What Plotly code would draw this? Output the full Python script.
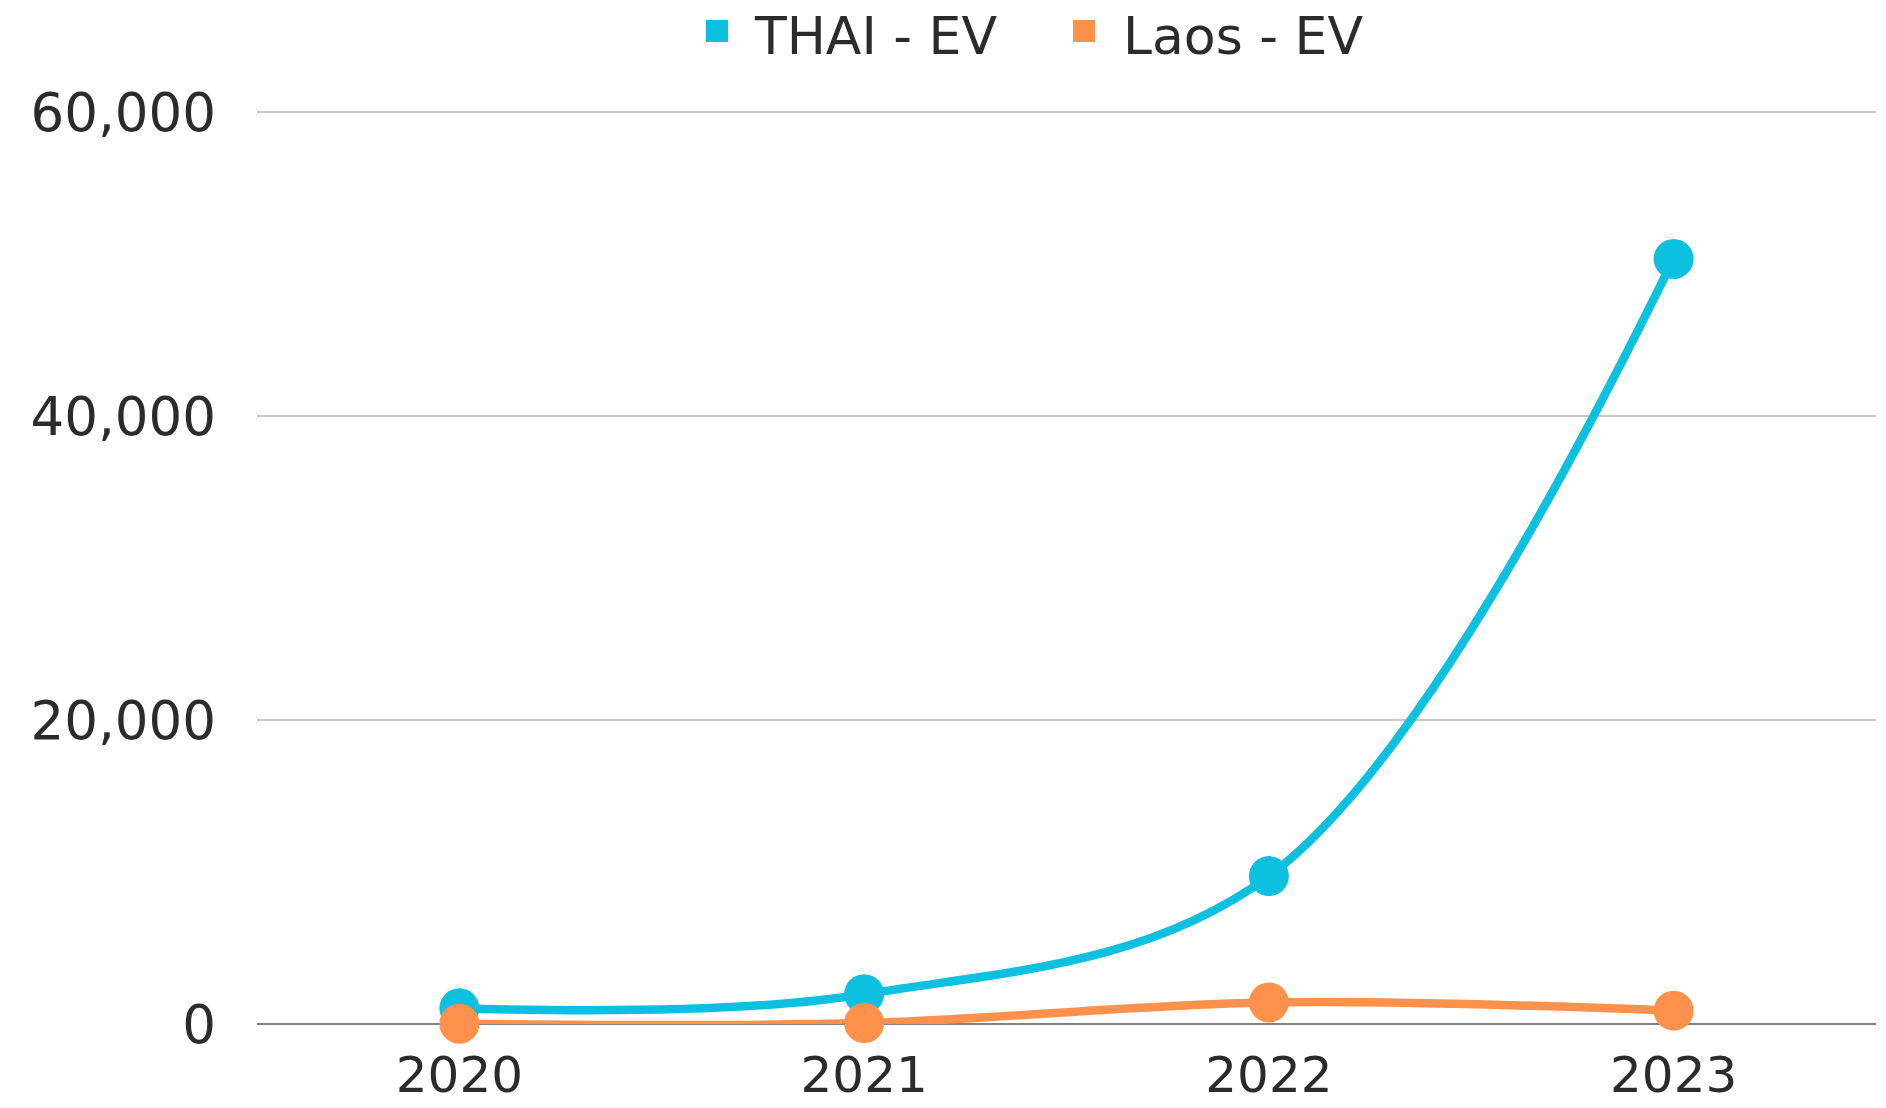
import plotly.graph_objects as go

years = ["2020", "2021", "2022", "2023"]
thai_ev = [1030, 1960, 9730, 50340]
laos_ev = [20, 60, 1420, 880]
y_ticks = [0, 20000, 40000, 60000]
y_tick_labels = ["0", "20,000", "40,000", "60,000"]
series_names = ["THAI - EV", "Laos - EV"]

CYAN = "#0DC0DF"
ORANGE = "#FF914D"
FONT = "DejaVu Sans"
TXT = "#2B2B2B"

W, H = 1886, 1108
L, R, T, B = 257, 10, 103, 84
PW, PH = W - L - R, H - T - B

def px(x):  # figure pixel x -> paper fraction
    return (x - L) / PW

def py(y):  # figure pixel y -> paper fraction
    return (H - B - y) / PH

fig = go.Figure()
for name, vals, col in zip(series_names, [thai_ev, laos_ev], [CYAN, ORANGE]):
    fig.add_trace(go.Scatter(
        x=years, y=vals, mode="lines+markers", name=name,
        line=dict(color=col, width=8.5, shape="spline", smoothing=1),
        marker=dict(color=col, size=40),
        showlegend=False, cliponaxis=False,
    ))

# legend drawn manually (square swatch + text)
legend_items = [(series_names[0], CYAN, 706, 753), (series_names[1], ORANGE, 1073, 1122)]
shapes, annotations = [], []
for name, col, sx, tx in legend_items:
    shapes.append(dict(type="rect", xref="paper", yref="paper",
                       x0=px(sx), x1=px(sx + 22), y0=py(42), y1=py(20),
                       fillcolor=col, line=dict(width=0)))
    annotations.append(dict(text=name, xref="paper", yref="paper", x=px(tx), y=py(36),
                            xanchor="left", yanchor="middle", showarrow=False, borderpad=0,
                            font=dict(size=52, color=TXT, family=FONT)))

fig.update_layout(
    width=W, height=H,
    margin=dict(l=L, r=R, t=T, b=B, autoexpand=False),
    paper_bgcolor="white", plot_bgcolor="white",
    font=dict(family=FONT, color=TXT),
    showlegend=False,
    shapes=shapes, annotations=annotations,
)
fig.update_xaxes(
    type="category", range=[-0.5, 3.5], showgrid=False, showline=False, zeroline=False,
    tickfont=dict(size=50, color=TXT, family=FONT), ticks="", ticklabelstandoff=17,
)
fig.update_yaxes(
    range=[0, 60600], tickvals=y_ticks, ticktext=y_tick_labels,
    showgrid=True, gridcolor="#C8C8C8", gridwidth=2,
    zeroline=True, zerolinecolor="#808080", zerolinewidth=2,
    showline=False, ticks="", ticklabelstandoff=40,
    tickfont=dict(size=53, color=TXT, family=FONT),
)
fig.write_html("out.html", config={"displayModeBar": False},
               post_script="document.body.style.margin='0';document.body.style.padding='0';")
